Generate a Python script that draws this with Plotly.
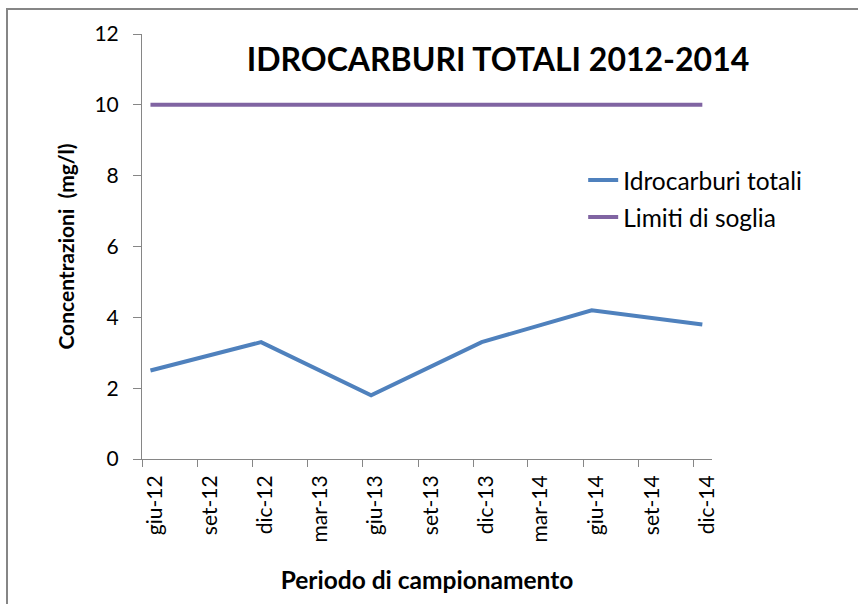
import plotly.graph_objects as go

# Data
sample_dates = ["2012-06-15", "2012-12-15", "2013-06-15", "2013-12-15", "2014-06-15", "2014-12-15"]
idrocarburi = [2.5, 3.3, 1.8, 3.3, 4.2, 3.8]
limiti = [10, 10, 10, 10, 10, 10]
tick_dates = ["2012-06-01", "2012-09-01", "2012-12-01", "2013-03-01", "2013-06-01", "2013-09-01",
              "2013-12-01", "2014-03-01", "2014-06-01", "2014-09-01", "2014-12-01"]
tick_labels = ["giu-12", "set-12", "dic-12", "mar-13", "giu-13", "set-13",
               "dic-13", "mar-14", "giu-14", "set-14", "dic-14"]
y_ticks = [0, 2, 4, 6, 8, 10, 12]

FONT = "Lato"
axis_col = "#868686"

fig = go.Figure()
fig.add_trace(go.Scatter(x=sample_dates, y=idrocarburi, mode="lines", name="Idrocarburi totali",
                         line=dict(color="#4F81BD", width=4), legendgroup="a"))
fig.add_trace(go.Scatter(x=sample_dates, y=limiti, mode="lines", name="Limiti di soglia",
                         line=dict(color="#8064A2", width=4), legendgroup="b"))

fig.update_layout(
    width=858, height=604,
    margin=dict(l=142, r=146, t=34, b=144.5),
    paper_bgcolor="white", plot_bgcolor="white",
    font=dict(family=FONT, color="black", size=21),
    title=dict(text="<b>IDROCARBURI TOTALI 2012-2014</b>", x=498/858, xanchor="center",
               y=1 - 60/604, yanchor="middle", font=dict(family=FONT, size=32, color="black")),
    legend=dict(x=0.774, y=0.709, xanchor="left", yanchor="top", bgcolor="rgba(0,0,0,0)",
                font=dict(family=FONT, size=24.5), traceorder="grouped", tracegroupgap=2),
    xaxis=dict(type="date", range=["2012-06-01", "2014-12-31"], tickmode="array",
               tickvals=tick_dates, ticktext=tick_labels, tickangle=-90,
               ticks="outside", ticklen=7, tickcolor=axis_col, ticklabelshift=13,
               showline=True, linecolor=axis_col, linewidth=1, showgrid=False, zeroline=False,
               title=dict(text="<b>Periodo di campionamento</b>", font=dict(family=FONT, size=24.5), standoff=30)),
    yaxis=dict(range=[0, 12], tickmode="array", tickvals=y_ticks,
               ticks="outside", ticklen=8, tickcolor=axis_col, ticklabelstandoff=10,
               showline=True, linecolor=axis_col, linewidth=1, showgrid=False, zeroline=False,
               title=dict(text="<b>Concentrazioni&nbsp; (mg/l)</b>", font=dict(family=FONT, size=21), standoff=14)),
    shapes=[dict(type="rect", xref="paper", yref="paper", x0=(7-142)/570, x1=1.6,
                 y0=-0.6, y1=(459.5-9)/425.5, line=dict(color=axis_col, width=2),
                 fillcolor="rgba(0,0,0,0)", layer="below")],
)

fig.write_html("out.html", config={"displayModeBar": False},
               post_script="document.body.style.margin='0';document.body.style.overflow='hidden';")
